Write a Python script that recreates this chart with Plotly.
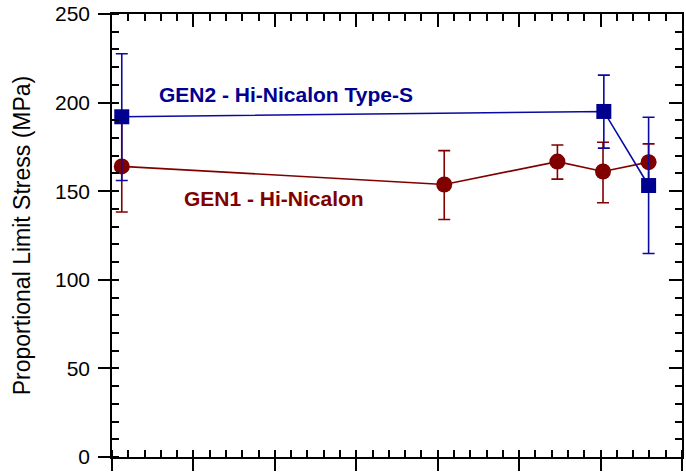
import plotly.graph_objects as go

# GEN1 - Hi-Nicalon (red circles)
gen1_x = [0.12, 4.08, 5.47, 6.03, 6.59]
gen1_y = [164.0, 153.8, 166.7, 161.1, 166.4]
gen1_err_plus = [25.5, 19.1, 9.4, 16.5, 10.3]
gen1_err_minus = [25.7, 19.8, 9.9, 17.6, 10.3]

# GEN2 - Hi-Nicalon Type-S (blue squares)
gen2_x = [0.12, 6.04, 6.59]
gen2_y = [192.0, 195.0, 153.2]
gen2_err_plus = [35.6, 20.5, 38.5]
gen2_err_minus = [36.0, 20.7, 38.4]

y_tickvals = [0, 50, 100, 150, 200, 250]
label_gen1 = "GEN1 - Hi-Nicalon"
label_gen2 = "GEN2 - Hi-Nicalon Type-S"

RED = "#800000"
BLUE = "#000090"
FONT = "Arial, 'Liberation Sans', sans-serif"

fig = go.Figure()

fig.add_trace(go.Scatter(
    x=gen1_x, y=gen1_y, mode="lines+markers",
    line=dict(color=RED, width=1.6),
    marker=dict(symbol="circle", size=16, color=RED),
    error_y=dict(type="data", symmetric=False, array=gen1_err_plus,
                 arrayminus=gen1_err_minus, color=RED, thickness=1.6, width=6),
    showlegend=False, hoverinfo="skip"))

fig.add_trace(go.Scatter(
    x=gen2_x, y=gen2_y, mode="lines+markers",
    line=dict(color="#0a0aa0", width=1.6),
    marker=dict(symbol="square", size=15, color=BLUE),
    error_y=dict(type="data", symmetric=False, array=gen2_err_plus,
                 arrayminus=gen2_err_minus, color="#0a0aa0", thickness=1.6, width=6),
    showlegend=False, hoverinfo="skip"))

# empty helper traces so overlay axes are drawn
fig.add_trace(go.Scatter(x=[], y=[], xaxis="x2", yaxis="y2", showlegend=False, hoverinfo="skip"))
fig.add_trace(go.Scatter(x=[], y=[], xaxis="x3", yaxis="y3", showlegend=False, hoverinfo="skip"))

fig.add_annotation(x=0.55, y=204.5, xref="x", yref="y", text=label_gen2,
                   showarrow=False, xanchor="left", yanchor="middle",
                   font=dict(family=FONT, size=21, color=BLUE, weight="bold"))
fig.add_annotation(x=0.86, y=146.0, xref="x", yref="y", text=label_gen1,
                   showarrow=False, xanchor="left", yanchor="middle",
                   font=dict(family=FONT, size=21, color=RED, weight="bold"))

common_x = dict(range=[0, 7], showgrid=False, zeroline=False, showticklabels=False,
                tick0=0, dtick=1, tickcolor="black", tickwidth=1.5, fixedrange=True)
common_y = dict(range=[0, 250], showgrid=False, zeroline=False,
                tick0=0, dtick=50, tickcolor="black", tickwidth=1.5, fixedrange=True)

fig.update_layout(
    width=686, height=473,
    margin=dict(l=112, r=4, t=14, b=14),
    paper_bgcolor="white", plot_bgcolor="white",
    font=dict(family=FONT, size=21, color="black"),
    xaxis=dict(**common_x, showline=True, linecolor="black", linewidth=1.5,
               ticks="outside", ticklen=12,
               minor=dict(ticks="inside", ticklen=7, dtick=0.2, tick0=0,
                          tickcolor="black", tickwidth=1.5, showgrid=False)),
    xaxis2=dict(**common_x, overlaying="x", side="top", anchor="y2",
                showline=True, linecolor="black", linewidth=1.5,
                ticks="inside", ticklen=13,
                minor=dict(ticks="inside", ticklen=7, dtick=0.2, tick0=0,
                           tickcolor="black", tickwidth=1.5, showgrid=False)),
    xaxis3=dict(**common_x, overlaying="x", side="bottom", anchor="y3",
                showline=False, ticks="inside", ticklen=4),
    yaxis=dict(**common_y, showline=True, linecolor="black", linewidth=1.5,
               ticks="outside", ticklen=12, tickvals=y_tickvals,
               ticklabelstandoff=4,
               tickfont=dict(family=FONT, size=21, color="black"),
               title=dict(text="Proportional Limit Stress (MPa)",
                          font=dict(family=FONT, size=23, color="black"),
                          standoff=18),
               automargin=False,
               minor=dict(ticks="inside", ticklen=7, dtick=10, tick0=0,
                          tickcolor="black", tickwidth=1.5, showgrid=False)),
    yaxis2=dict(**common_y, overlaying="y", side="right", anchor="x2",
                showline=True, linecolor="black", linewidth=1.5,
                ticks="inside", ticklen=13, showticklabels=False,
                minor=dict(ticks="inside", ticklen=7, dtick=10, tick0=0,
                           tickcolor="black", tickwidth=1.5, showgrid=False)),
    yaxis3=dict(**common_y, overlaying="y", side="left", anchor="x3",
                showline=False, ticks="inside", ticklen=4, showticklabels=False),
)

fig.write_html("out.html")
